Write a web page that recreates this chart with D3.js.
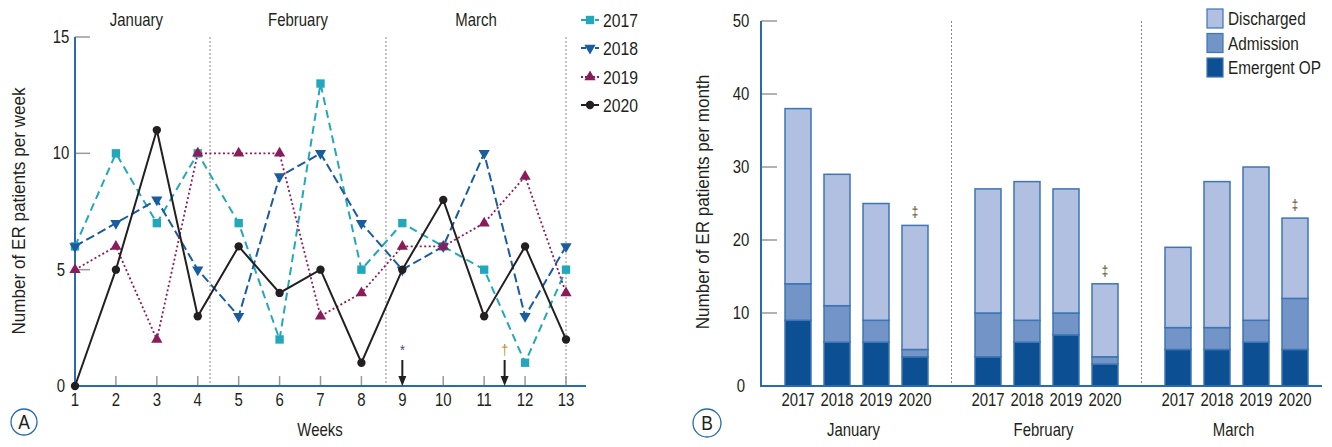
<!DOCTYPE html>
<html>
<head>
<meta charset="utf-8">
<script src="https://cdn.jsdelivr.net/npm/d3@7"></script>
<style>
  body { margin: 0; background: #fff; }
  svg text { font-family: "Liberation Sans", Arial, sans-serif; fill: #231f20; }
</style>
</head>
<body>
<svg width="1332" height="447"></svg>
<script>
// ---- data: panel A (weekly counts) ----
var weeks = [1, 2, 3, 4, 5, 6, 7, 8, 9, 10, 11, 12, 13];
var y2017 = [6, 10, 7, 10, 7, 2, 13, 5, 7, 6, 5, 1, 5];
var y2018 = [6, 7, 8, 5, 3, 9, 10, 7, 5, 6, 10, 3, 6];
var y2019 = [5, 6, 2, 10, 10, 10, 3, 4, 6, 6, 7, 9, 4];
var y2020 = [0, 5, 11, 3, 6, 4, 5, 1, 5, 8, 3, 6, 2];
var weekTicks = [0, 5, 10, 15];
var monthNames = ['January', 'February', 'March'];
var monthEnds = [4.3, 8.6, 13];

// ---- data: panel B (monthly counts) ----
var years = ['2017', '2018', '2019', '2020'];
var emergentOP = [[9, 6, 6, 4], [4, 6, 7, 3], [5, 5, 6, 5]];
var admission = [[5, 5, 3, 1], [6, 3, 3, 1], [3, 3, 3, 7]];
var discharged = [[24, 18, 16, 17], [17, 19, 17, 10], [11, 20, 21, 11]];
var monthTicks = [0, 10, 20, 30, 40, 50];

var svg = d3.select('svg');
var axisBlue = '#2a6aae';
var tickGray = '#999';
var squeeze = 0.83; // narrow the font to look like the condensed face

// condensed text helper
function label(parent, x, y, str, size, anchor, rot, sq) {
  return parent.append('text')
    .attr('transform', 'translate(' + x + ',' + y + ')' + (rot ? ' rotate(' + rot + ')' : '') + ' scale(' + (sq || squeeze) + ',1)')
    .attr('text-anchor', anchor || 'middle')
    .attr('font-size', size)
    .text(str);
}

// ================= panel A =================
var xA = d3.scaleLinear().domain([1, 13]).range([75, 566]);
var yA = d3.scaleLinear().domain([0, 15]).range([386, 37]);

var gA = svg.append('g');

// month separators
gA.selectAll('.sep').data(monthEnds).enter().append('line')
  .attr('x1', function(d) { return xA(d); }).attr('x2', function(d) { return xA(d); })
  .attr('y1', yA(15)).attr('y2', yA(0))
  .attr('stroke', '#888').attr('stroke-width', 1).attr('stroke-dasharray', '2,2');

// month labels
var monthStarts = [1].concat(monthEnds.slice(0, 2));
monthNames.forEach(function(m, i) {
  var cx = i == 0 ? xA(2.5) : (xA(monthStarts[i]) + xA(monthEnds[i])) / 2;
  label(gA, cx, 26, m, 18);
});

// y ticks
gA.selectAll('.yt').data(weekTicks).enter().append('line')
  .attr('x1', 75).attr('x2', 90)
  .attr('y1', function(d) { return yA(d); }).attr('y2', function(d) { return yA(d); })
  .attr('stroke', tickGray).attr('stroke-width', 1.5);
weekTicks.forEach(function(t) { label(gA, 61, yA(t) + 6, t, 18); });

// x ticks
gA.selectAll('.xt').data(weeks).enter().append('line')
  .attr('x1', function(d) { return xA(d); }).attr('x2', function(d) { return xA(d); })
  .attr('y1', yA(0)).attr('y2', yA(0) - 10)
  .attr('stroke', tickGray).attr('stroke-width', 1.5);
weeks.forEach(function(w) { label(gA, xA(w), 406, w, 18); });

// axes lines
gA.append('line').attr('x1', 75).attr('x2', 75).attr('y1', yA(15)).attr('y2', yA(0))
  .attr('stroke', axisBlue).attr('stroke-width', 2);
gA.append('line').attr('x1', 74).attr('x2', 586).attr('y1', yA(0)).attr('y2', yA(0))
  .attr('stroke', axisBlue).attr('stroke-width', 2);

label(gA, 320, 436, 'Weeks', 18);
label(gA, 25, 211, 'Number of ER patients per week', 19, 'middle', -90, 0.9);

// series
var seriesA = [
  {name: '2017', values: y2017, color: '#22a7bd', dash: '8,5', width: 2, shape: 'square'},
  {name: '2018', values: y2018, color: '#195c9f', dash: '9,4', width: 2, shape: 'down'},
  {name: '2019', values: y2019, color: '#8b1c5b', dash: '2,2.5', width: 1.8, shape: 'up'},
  {name: '2020', values: y2020, color: '#231f20', dash: null, width: 2, shape: 'circle'}
];

function symbolPath(shape) {
  if (shape == 'square') return d3.symbol().type(d3.symbolSquare).size(70)();
  if (shape == 'circle') return d3.symbol().type(d3.symbolCircle).size(55)();
  return d3.symbol().type(d3.symbolTriangle).size(55)();
}

var line = d3.line()
  .x(function(d, i) { return xA(weeks[i]); })
  .y(function(d) { return yA(d); });

seriesA.forEach(function(s) {
  gA.append('path').attr('d', line(s.values))
    .attr('fill', 'none').attr('stroke', s.color).attr('stroke-width', s.width)
    .attr('stroke-dasharray', s.dash);
  gA.selectAll('.m' + s.name).data(s.values).enter().append('path')
    .attr('d', symbolPath(s.shape))
    .attr('transform', function(d, i) {
      return 'translate(' + xA(weeks[i]) + ',' + yA(d) + ')' + (s.shape == 'down' ? ' rotate(180)' : '');
    })
    .attr('fill', s.color);
});

// legend A
var legY = [20, 48, 77, 105];
seriesA.forEach(function(s, i) {
  var lg = gA.append('g').attr('transform', 'translate(581,' + legY[i] + ')');
  lg.append('line').attr('x1', 0).attr('x2', 18).attr('y1', 0).attr('y2', 0)
    .attr('stroke', s.color).attr('stroke-width', 2)
    .attr('stroke-dasharray', s.dash ? (s.shape == 'up' ? '2,2' : '5,2') : null);
  lg.append('path').attr('d', symbolPath(s.shape))
    .attr('transform', 'translate(9,0)' + (s.shape == 'down' ? ' rotate(180)' : ''))
    .attr('fill', s.color);
  label(lg, 22, 7, s.name, 19, 'start');
});

// arrows
var arrows = [{w: 9, mark: '*', color: '#3a4a7a'}, {w: 11.5, mark: '\u2020', color: '#c08a2a'}];
arrows.forEach(function(a) {
  gA.append('line').attr('x1', xA(a.w)).attr('x2', xA(a.w)).attr('y1', 360).attr('y2', 380)
    .attr('stroke', '#231f20').attr('stroke-width', 2);
  gA.append('path').attr('d', 'M' + (xA(a.w) - 4) + ',376 L' + (xA(a.w) + 4) + ',376 L' + xA(a.w) + ',386 Z')
    .attr('fill', '#231f20');
  label(gA, xA(a.w), 355, a.mark, 15).style('fill', a.color);
});

// panel letter A
svg.append('circle').attr('cx', 24).attr('cy', 422).attr('r', 13)
  .attr('fill', 'none').attr('stroke', axisBlue).attr('stroke-width', 1.3);
label(svg, 24, 429, 'A', 21);

// ================= panel B =================
var xB = d3.scaleBand().domain(monthNames).range([761.5, 1331.5]);
var xYear = d3.scaleBand().domain(years).range([17, 173]).paddingInner(1 / 3).paddingOuter(1 / 6);
var yB = d3.scaleLinear().domain([0, 50]).range([386, 21]);

var gB = svg.append('g');

// separators
[monthNames[1], monthNames[2]].forEach(function(m) {
  gB.append('line').attr('x1', xB(m)).attr('x2', xB(m)).attr('y1', yB(50)).attr('y2', yB(0))
    .attr('stroke', '#888').attr('stroke-width', 1).attr('stroke-dasharray', '2,2');
});

// y ticks
gB.selectAll('.yt').data(monthTicks).enter().append('line')
  .attr('x1', 761).attr('x2', 777)
  .attr('y1', function(d) { return yB(d); }).attr('y2', function(d) { return yB(d); })
  .attr('stroke', tickGray).attr('stroke-width', 1.5);
monthTicks.forEach(function(t) { label(gB, 741, yB(t) + 6, t, 18); });

label(gB, 709, 202, 'Number of ER patients per month', 19, 'middle', -90, 0.9);

// stacked bars
var layers = [
  {name: 'Emergent OP', data: emergentOP, fill: '#0d4f93'},
  {name: 'Admission', data: admission, fill: '#7294c7'},
  {name: 'Discharged', data: discharged, fill: '#b1bfe0'}
];

monthNames.forEach(function(m, mi) {
  var g = gB.append('g').attr('transform', 'translate(' + xB(m) + ',0)');
  years.forEach(function(yr, yi) {
    var base = 0;
    layers.forEach(function(l) {
      var v = l.data[mi][yi];
      g.append('rect')
        .attr('x', xYear(yr)).attr('width', xYear.bandwidth())
        .attr('y', yB(base + v)).attr('height', yB(base) - yB(base + v))
        .attr('fill', l.fill).attr('stroke', '#3d76b5').attr('stroke-width', 1.5);
      base += v;
    });
    var cx = xYear(yr) + xYear.bandwidth() / 2;
    if (yr == '2020') {
      label(g, cx, yB(base) - 8, '\u2021', 14).style('fill', '#5a4a20');
    }
    label(g, cx, 406, yr, 18);
  });
  label(g, 92, 436, m, 18);
});

// axes
gB.append('line').attr('x1', 761).attr('x2', 761).attr('y1', yB(50)).attr('y2', yB(0))
  .attr('stroke', axisBlue).attr('stroke-width', 2);
gB.append('line').attr('x1', 760).attr('x2', 1322).attr('y1', yB(0)).attr('y2', yB(0))
  .attr('stroke', axisBlue).attr('stroke-width', 2);

// legend B
layers.slice().reverse().forEach(function(l, i) {
  var lg = gB.append('g').attr('transform', 'translate(1207,' + (9 + i * 24.5) + ')');
  lg.append('rect').attr('width', 16).attr('height', 19)
    .attr('fill', l.fill).attr('stroke', '#3d76b5').attr('stroke-width', 1.2);
  label(lg, 21, 16, l.name, 18.5, 'start');
});

// panel letter B
svg.append('circle').attr('cx', 707).attr('cy', 423).attr('r', 14)
  .attr('fill', 'none').attr('stroke', axisBlue).attr('stroke-width', 1.3);
label(svg, 707, 430, 'B', 21);
</script>
</body>
</html>
